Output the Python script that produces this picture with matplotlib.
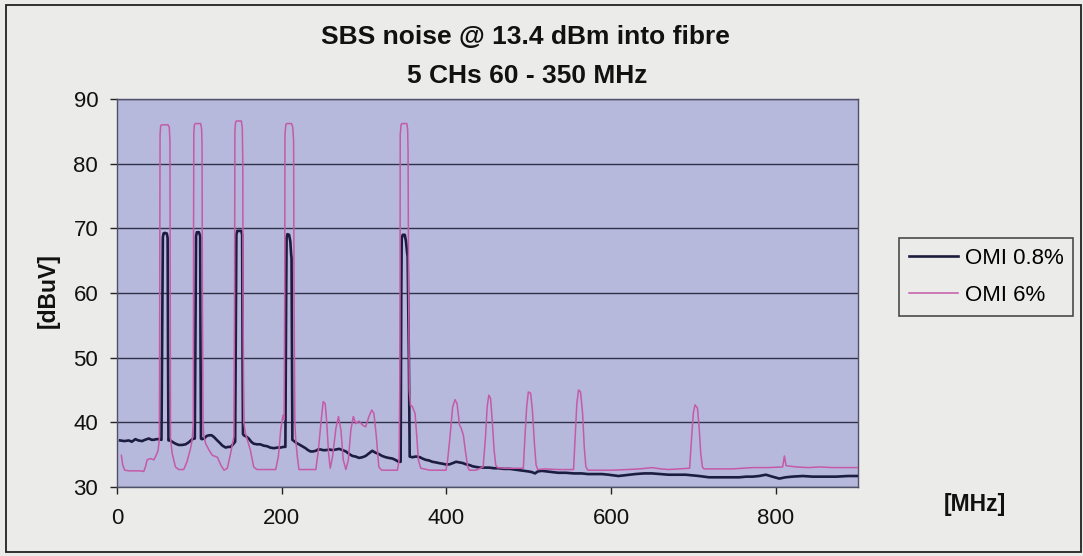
import matplotlib
matplotlib.use("Agg")
import matplotlib.pyplot as plt
from matplotlib.patches import Rectangle

plt.rcParams['font.family'] = ['Liberation Sans', 'DejaVu Sans']

# ---- measured spectrum, OMI 0.8 % (frequency in MHz, level in dBuV) ----
freq_omi08 = [
    3.7, 9, 14.3, 18, 22.3, 26, 30.5, 34, 38.7, 42, 44.8, 48, 50.9, 54,
    55.2, 55.7, 56.5, 58, 60.5, 61.5, 62, 62.5,
    63.5, 67, 71, 75, 79, 83.3, 87, 91.5, 94.5,
    95.5, 96, 97, 99.5, 101, 101.5, 102,
    103, 106, 109, 112, 115, 118, 121, 125, 128, 132, 135, 138, 141, 143.5,
    144.5, 145, 146, 151, 152, 152.5, 153,
    154, 157, 160, 163, 166, 170, 174, 178, 182.5, 186, 190.6, 195, 198.8, 202, 204.5,
    205.5, 206, 207, 209, 210.5, 211.5, 212, 212.5, 213,
    215, 218, 221, 225, 229, 232, 235, 238, 241.5, 244, 247.6, 250, 253.7, 258,
    261.8, 266, 270, 274, 278, 282, 286, 290, 294, 298, 302, 306, 310, 314,
    318, 322, 326.5, 330, 334.5, 338, 342, 344.5,
    345.3, 345.8, 347, 349.5, 351, 352.3, 353, 354.5, 355.5,
    359, 362, 365, 368, 371, 375, 379, 383, 387.4, 391, 395.5, 399, 403.7,
    408, 411.8, 416, 420, 424, 428, 432, 436, 441, 446, 452, 458, 463, 470,
    477, 483, 490, 496, 500, 504, 507.7, 511, 516, 522, 529, 536, 545, 555,
    564.6, 572, 580, 589, 597, 603, 609, 616, 622, 629.6, 640, 650, 660, 670,
    680, 690.6, 699, 707, 713, 719, 730, 740, 747.6, 756, 764, 772, 780, 788,
    796, 804.5, 812, 820, 833, 845, 860, 873.5, 888, 900,
]
level_omi08 = [
    37.2, 37.1, 37.2, 37.0, 37.4, 37.2, 37.1, 37.3, 37.5, 37.3, 37.3, 37.4, 37.4, 37.3,
    60.0, 68.6, 69.2, 69.3, 69.2, 68.5, 50.0, 37.2,
    37.3, 37.0, 36.7, 36.5, 36.5, 36.6, 36.9, 37.4, 37.5,
    60.0, 68.8, 69.4, 69.4, 68.8, 50.0, 37.5,
    37.4, 37.5, 37.9, 38.0, 38.0, 37.7, 37.3, 36.8, 36.4, 36.1, 36.2, 36.2, 36.6, 37.0,
    60.0, 69.0, 69.6, 69.6, 69.0, 50.0, 38.2,
    38.0, 37.8, 37.5, 37.0, 36.7, 36.6, 36.6, 36.4, 36.3, 36.1, 36.0, 36.1, 36.1, 36.2, 36.2,
    60.0, 68.6, 69.1, 69.0, 68.0, 66.0, 65.4, 50.0, 37.3,
    37.1, 36.8, 36.6, 36.3, 36.0, 35.7, 35.5, 35.5, 35.6, 35.8, 35.8, 35.7, 35.7, 35.8,
    35.7, 35.8, 35.9, 35.7, 35.5, 35.1, 34.8, 34.7, 34.5, 34.6, 34.8, 35.2, 35.6, 35.3,
    35.1, 34.8, 34.6, 34.5, 34.4, 34.2, 33.9, 33.9,
    60.0, 68.4, 69.0, 69.0, 68.0, 66.3, 65.6, 50.0, 34.7,
    34.6, 34.7, 34.7, 34.6, 34.4, 34.2, 34.1, 33.9, 33.8, 33.7, 33.6, 33.5, 33.5,
    33.7, 33.9, 33.8, 33.7, 33.5, 33.4, 33.2, 33.1, 33.0, 33.0, 33.0, 32.9, 32.9, 32.8,
    32.8, 32.7, 32.6, 32.5, 32.4, 32.3, 32.1, 32.4, 32.5, 32.4, 32.3, 32.2, 32.2, 32.1,
    32.1, 32.0, 32.0, 32.0, 31.9, 31.8, 31.7, 31.8, 31.9, 32.0, 32.1, 32.1, 32.0, 31.9,
    31.9, 31.9, 31.8, 31.7, 31.6, 31.5, 31.5, 31.5, 31.5, 31.5, 31.6, 31.6, 31.7, 31.9,
    31.6, 31.3, 31.5, 31.6, 31.7, 31.6, 31.6, 31.6, 31.7, 31.7,
]

# ---- measured spectrum, OMI 6 % ----
freq_omi6 = [
    5.3, 7, 9.4, 15, 22, 28, 32.5, 34.5, 36.6, 40.7, 44.8, 47.6, 50, 51.5,
    52, 52.3, 53, 54, 62, 63.5, 64.3, 64.6, 65,
    67, 71, 75, 81, 85, 89.4, 91.5, 92.7,
    93, 93.3, 94, 95, 101.5, 102.7, 103.3, 103.7, 104.5,
    105.3, 107.7, 111.8, 115.8, 122, 126, 130, 134, 138, 142,
    142.8, 143.2, 144, 145, 151, 152.2, 152.8, 153, 154,
    156, 159, 162, 166, 170, 180, 192.7, 196, 198.8, 201.6, 203,
    203.7, 204, 205, 206, 212, 213.5, 214.5, 215, 216,
    217, 219, 221, 230, 241.5, 244.6, 247.6, 250.4, 252.8, 254.5, 257, 259,
    261.8, 265.9, 269, 272, 274.8, 278, 281, 284, 287, 290, 294, 298, 302,
    306, 309.4, 312, 315, 318, 321.5, 330, 340.6, 342.7,
    343.7, 344, 345, 346, 352, 353, 353.5, 354.2, 355,
    356.5, 358.5, 362, 364, 366, 369, 380, 390, 399.6, 401.6, 404.5, 407.7,
    410.6, 413, 416, 418, 420.7, 423, 426, 428, 436, 444.7, 447.6, 449.6,
    451.6, 453.7, 455.7, 458, 460, 462, 470, 480, 493.5, 495.5, 497.6, 499.6,
    502.4, 504.5, 507, 509, 511, 520, 535, 545, 554.5, 556.5, 558.5, 560.6,
    563, 565.5, 567.5, 569.5, 572, 585, 600, 620, 635, 650, 660, 670, 683,
    695.5, 698, 700, 702, 705, 707, 709, 711, 713, 730, 747.6, 760, 772, 790,
    808.5, 810.6, 812.6, 825, 840, 853, 870, 885, 900,
]
level_omi6 = [
    34.9, 33.4, 32.6, 32.5, 32.5, 32.5, 32.4, 33.1, 34.2, 34.4, 34.2, 34.9, 35.7, 37.5,
    70.0, 84.5, 85.8, 86.0, 86.0, 85.6, 83.5, 60.0, 37.5,
    35.2, 33.1, 32.7, 32.7, 33.9, 36.0, 37.5, 40.0,
    70.0, 84.8, 86.0, 86.2, 86.2, 85.5, 83.0, 60.0, 40.0,
    38.0, 36.7, 35.7, 34.9, 34.6, 33.4, 32.6, 32.9, 35.2, 37.8,
    60.0, 85.0, 86.4, 86.6, 86.6, 85.5, 80.0, 60.0, 40.0,
    38.3, 37.0, 35.7, 33.1, 32.7, 32.7, 32.7, 34.7, 38.8, 41.1, 40.4,
    60.0, 84.5, 86.0, 86.2, 86.2, 85.6, 83.5, 60.0, 40.0,
    37.5, 34.7, 32.7, 32.7, 32.7, 35.7, 39.8, 43.2, 42.9, 40.4, 35.2, 32.9,
    34.7, 39.1, 40.9, 38.8, 34.2, 32.7, 34.2, 38.8, 40.9, 39.8, 40.2, 39.6, 39.3,
    40.9, 41.9, 41.4, 37.8, 33.1, 32.6, 32.6, 32.6, 34.2,
    50.0, 84.5, 86.0, 86.2, 86.2, 85.3, 82.0, 60.0, 45.0,
    42.6, 42.5, 41.4, 38.0, 34.2, 32.9, 32.6, 32.6, 32.6, 34.2, 37.8, 42.4,
    43.5, 42.9, 39.6, 39.1, 38.0, 35.7, 33.1, 32.6, 32.6, 33.1, 37.8, 42.4,
    44.2, 43.7, 40.4, 35.7, 33.4, 33.0, 32.9, 32.9, 32.9, 37.8, 42.4, 44.7,
    44.5, 41.9, 36.7, 33.4, 32.7, 32.8, 32.7, 32.7, 32.7, 37.8, 42.9, 45.0,
    44.7, 41.4, 36.2, 33.1, 32.6, 32.6, 32.6, 32.7, 32.8, 33.0, 32.8, 32.7, 32.8,
    32.9, 37.8, 41.4, 42.7, 42.2, 39.3, 35.2, 33.1, 32.8, 32.8, 32.8, 32.9, 33.0, 33.0,
    33.1, 34.8, 33.3, 33.1, 33.0, 33.1, 33.0, 33.0, 33.0,
]

series_labels = ['OMI 0.8%', 'OMI 6%']
title_lines = ['SBS noise @ 13.4 dBm into fibre', '5 CHs 60 - 350 MHz']
x_ticks = [0, 200, 400, 600, 800]
y_ticks = [30, 40, 50, 60, 70, 80, 90]

W, H = 1083, 556
fig = plt.figure(figsize=(W / 100, H / 100), dpi=100, facecolor='#ebebe9')

# plot area in pixel terms
left, right, top, bottom = 117, 858, 99, 487
ax = fig.add_axes([left / W, 1 - bottom / H, (right - left) / W, (bottom - top) / H])
ax.set_facecolor('#b6b9dc')

line_black, = ax.plot(freq_omi08, level_omi08, color='#1c1c40', lw=1.9,
                      solid_joinstyle='round', zorder=3, label=series_labels[0])
line_pink, = ax.plot(freq_omi6, level_omi6, color='#c45aa8', lw=1.1,
                     solid_joinstyle='round', zorder=4, label=series_labels[1])

ax.set_xlim(0, 900)
ax.set_ylim(30, 90)
ax.set_xticks(x_ticks)
ax.set_yticks(y_ticks)
ax.yaxis.grid(True, color='#30304a', lw=1.0)
ax.set_axisbelow(True)

for sp in ax.spines.values():
    sp.set_color('#50506a')
    sp.set_linewidth(1.0)

ax.tick_params(axis='both', direction='out', colors='#222222', labelsize=16,
               length=5, width=1.0, labelcolor='#111111')
ax.tick_params(axis='x', pad=10)
ax.tick_params(axis='y', pad=8.5)

# titles and axis labels
fig.text(525 / W, 1 - 37 / H, title_lines[0], ha='center', va='center',
         fontsize=19, fontweight='bold', color='#111111')
fig.text(527 / W, 1 - 76 / H, title_lines[1], ha='center', va='center',
         fontsize=19, fontweight='bold', color='#111111')
fig.text(48 / W, 1 - 291 / H, '[dBuV]', rotation=90, ha='center', va='center',
         fontsize=16.5, fontweight='bold', color='#111111')
fig.text(975 / W, 1 - 505 / H, '[MHz]', ha='center', va='center',
         fontsize=16.5, fontweight='bold', color='#111111')

leg = fig.legend(handles=[line_black, line_pink], labels=series_labels,
                 loc='upper left', bbox_to_anchor=(899 / W, 1 - 238 / H),
                 bbox_transform=fig.transFigure, borderaxespad=0,
                 fontsize=16, frameon=True, fancybox=False,
                 handlelength=2.2, handletextpad=0.3, borderpad=0.45,
                 labelspacing=0.7)
leg.get_frame().set_edgecolor('#222222')
leg.get_frame().set_facecolor('#ebebe9')
leg.get_frame().set_linewidth(1.2)

# outer chart border
fig.add_artist(Rectangle((6 / W, 1 - 552 / H), (1081 - 6) / W, (552 - 5) / H,
                         transform=fig.transFigure, fill=False,
                         edgecolor='#222222', lw=1.3))

fig.savefig('out.png', dpi=100, facecolor=fig.get_facecolor())
